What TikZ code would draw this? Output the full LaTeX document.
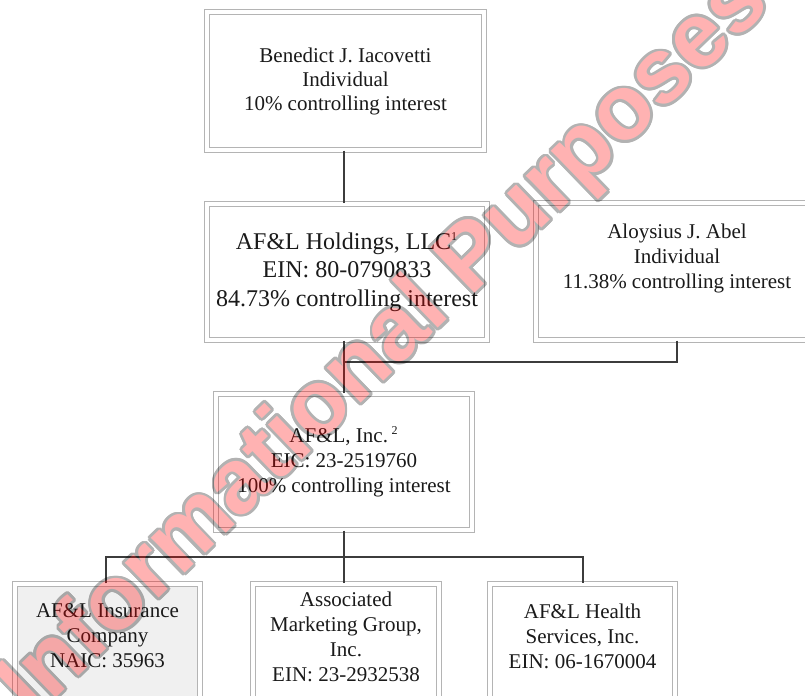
\documentclass[tikz,border=0pt]{standalone}
\usepackage{fontspec}
\setmainfont{Liberation Serif}
\newfontfamily\stampfont{Liberation Sans}
\usepackage{xcolor}
\usepackage{contour}
\contourlength{1.4pt}
\definecolor{chartink}{HTML}{1A1A1A}
\definecolor{chartrule}{HTML}{3C3C3C}
\definecolor{chartframe}{HTML}{B4B4B4}
\definecolor{chartshade}{HTML}{F0F0F0}
\definecolor{stampred}{HTML}{FF0000}
\newcommand{\notemark}[1]{\textsuperscript{\fontsize{6}{6}\selectfont #1}}

\begin{document}
\begin{tikzpicture}[
  x=0.5pt,
  y=-0.5pt,
  every node/.style={font=\fontsize{10.5}{12.5}\selectfont, text=chartink},
  entity/.style={draw=chartframe, double=white, double distance=1.6pt,
    line width=0.7pt, fill=white, align=center, inner sep=0pt},
  leaf/.style={entity, minimum width=92.5pt, minimum height=58pt,
    text depth=6pt},
  link/.style={chartrule, line width=1pt},
  stamp/.style={rotate=44, inner sep=0pt, text=stampred,
    font=\stampfont\bfseries\fontsize{46}{46}\selectfont}
]
  \fill[white] (0,0) rectangle (805,696);
  \useasboundingbox (0,0) rectangle (805,696);
  \clip (0,0) rectangle (805,696);

  % ================= owners =============================================
  \node[entity, minimum width=138.5pt, minimum height=69pt,
        font=\fontsize{10.5}{12}\selectfont] (iacovetti) at (345.5,81)
    {Benedict J. Iacovetti\\Individual\\10\% controlling interest};

  \node[entity, minimum width=140pt, minimum height=68pt,
        font=\fontsize{12}{14.25}\selectfont] (holdings) at (347,272)
    {AF\&L Holdings, LLC\notemark{1}\\EIN: 80-0790833\\
     84.73\% controlling interest};

  % text sits high in this box
  \node[entity, minimum width=141pt, minimum height=68.5pt,
        text depth=15.3pt] (abel) at (677,271.5)
    {Aloysius J. Abel\\Individual\\11.38\% controlling interest};

  % ================= parent =============================================
  \node[entity, minimum width=128pt, minimum height=68pt] (inc) at (344,462)
    {AF\&L, Inc.\,\notemark{2}\\EIC: 23-2519760\\100\% controlling interest};

  % ================= subsidiaries (cut off by the page) =================
  \node[leaf, fill=chartshade] (insurance) at (107.5,642)
    {AF\&L Insurance\\Company\\NAIC: 35963};
  \node[leaf, minimum width=93pt, text depth=4.8pt] (marketing) at (346,642)
    {Associated\\Marketing Group,\\Inc.\\EIN: 23-2932538};
  \node[leaf] (health) at (582.5,642)
    {AF\&L Health\\Services, Inc.\\EIN: 06-1670004};

  % ================= connectors =========================================
  \coordinate (merge) at (344,362);
  \coordinate (fork) at (344,557);

  \draw[link] (iacovetti.south -| 344,0) -- (holdings.north -| 344,0);
  \draw[link] (holdings.south -| inc.north) -- (inc.north);
  \draw[link] (abel.south) -- (abel.south |- merge) -- (merge);

  \draw[link] (inc.south) -- (inc.south |- marketing.north);
  \draw[link] (insurance.north -| 106,0) -- (fork -| 106,0)
    -- (fork -| 583,0) -- (health.north -| 583,0);

  % ================= watermark ==========================================
  \begin{scope}[transparency group, opacity=0.3]
    \node[stamp] (stamp) at (387,347)
      {\contour{black}{Informational Purposes}};
  \end{scope}
\end{tikzpicture}
\end{document}
